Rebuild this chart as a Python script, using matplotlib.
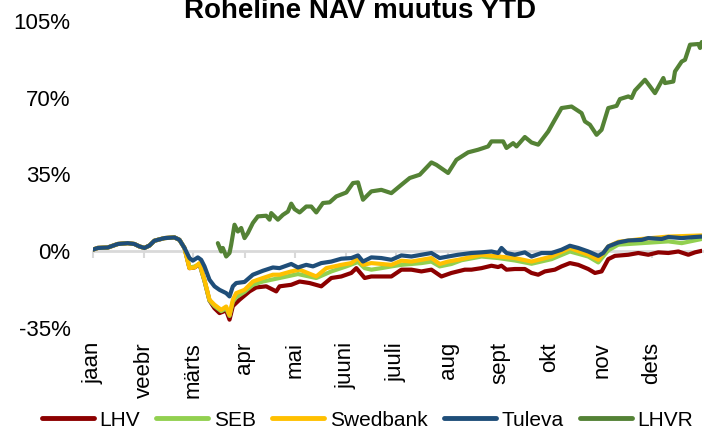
import numpy as np
import matplotlib
matplotlib.use('Agg')
import matplotlib.pyplot as plt

# values (day of year 2020, % change YTD)
months = ['jaan', 'veebr', 'märts', 'apr', 'mai', 'juuni', 'juuli', 'aug', 'sept', 'okt', 'nov', 'dets']
month_starts = [0, 31, 60, 91, 121, 152, 182, 213, 244, 274, 305, 335]

early_days = [0, 3, 9, 15, 21, 25, 28, 31, 34, 37, 43, 49, 52, 55]
early_vals = [0.7, 1.5, 1.7, 3.3, 3.7, 3.3, 2.2, 1.5, 2.6, 4.8, 6.0, 6.3, 5.2, 1.5]

tuleva_days = early_days + [58, 60, 63, 65, 67, 70, 73, 76, 80, 82, 84, 86, 91, 96, 102, 108, 112, 119, 123,
                            128, 132, 137, 143, 149, 155, 159, 162, 167, 173, 179, 185, 191, 197, 203, 208,
                            213, 219, 227, 233, 239, 243, 245, 248, 253, 259, 263, 269, 275, 281, 286, 291,
                            297, 303, 306, 309, 315, 321, 329, 333, 341, 345, 353, 361, 365]
tuleva_vals = early_vals + [-3.1, -4.3, -2.8, -3.9, -6.9, -13.0, -16.0, -17.6, -19.1, -20.6, -16.0, -14.5, -14.0,
                            -10.7, -8.9, -7.4, -7.7, -5.8, -7.4, -6.2, -6.9, -5.4, -4.7, -3.4, -3.1, -1.9, -4.7,
                            -2.8, -3.1, -3.9, -1.9, -2.4, -1.6, -0.8, -3.1, -2.4, -1.6, -0.8, -0.5, -0.1, -0.8,
                            1.5, -0.8, -1.6, -0.5, -2.4, -0.8, -0.8, 0.7, 2.5, 1.5, -0.1, -2.1, -0.8, 2.2, 4.0,
                            4.9, 5.2, 6.0, 5.6, 6.5, 6.0, 6.5, 6.7]

swed_days = early_days + [58, 61, 64, 67, 70, 73, 77, 80, 82, 84, 86, 91, 96, 102, 108, 112, 119, 124, 134, 140,
                          149, 155, 159, 162, 167, 173, 179, 185, 191, 197, 203, 208, 213, 219, 227, 233, 243,
                          253, 263, 275, 286, 297, 303, 309, 315, 329, 345, 365]
swed_vals = early_vals + [-7.7, -7.4, -5.4, -13.0, -22.1, -24.4, -26.7, -25.2, -29.0, -22.1, -19.1, -17.6, -13.8,
                          -12.2, -10.7, -10.7, -9.2, -8.4, -11.5, -7.7, -6.2, -5.4, -3.1, -6.2, -5.4, -5.8, -6.2,
                          -4.3, -4.7, -3.9, -3.1, -5.8, -4.7, -3.9, -2.6, -1.6, -2.4, -3.1, -4.7, -2.4, 1.5,
                          -1.6, -3.9, 2.2, 4.3, 5.6, 6.7, 7.2]

seb_days = early_days + [58, 61, 64, 67, 70, 73, 77, 80, 82, 84, 86, 91, 96, 102, 112, 123, 134, 143, 152, 159,
                         163, 167, 173, 179, 185, 191, 197, 203, 208, 215, 221, 233, 243, 253, 263, 275, 286,
                         297, 303, 309, 315, 329, 345, 353, 365]
seb_vals = early_vals + [-7.4, -7.0, -5.8, -13.5, -22.5, -25.0, -27.3, -26.0, -29.5, -23.0, -21.0, -18.5, -15.3,
                         -13.8, -12.2, -10.4, -12.2, -9.2, -6.9, -4.9, -7.7, -8.4, -7.7, -6.9, -6.2, -5.8, -5.4,
                         -4.7, -6.9, -5.8, -4.1, -2.4, -3.1, -4.2, -5.7, -3.6, -0.1, -2.4, -5.1, 0.4, 3.0, 3.7,
                         4.5, 3.7, 5.6]

lhv_days = early_days + [58, 61, 64, 67, 70, 73, 76, 80, 82, 84, 88, 94, 98, 104, 110, 112, 119, 124, 130, 137,
                         143, 149, 155, 158, 163, 167, 173, 179, 185, 191, 197, 203, 209, 215, 223, 227, 233,
                         239, 243, 245, 248, 253, 259, 263, 267, 271, 277, 281, 286, 291, 297, 301, 305, 309,
                         313, 321, 327, 333, 339, 345, 351, 357, 361, 365]
lhv_vals = early_vals + [-7.7, -7.4, -5.8, -13.5, -22.5, -26.0, -28.2, -27.0, -31.2, -25.0, -22.1, -18.3, -16.5,
                         -16.0, -18.3, -16.0, -15.3, -13.8, -14.5, -16.0, -12.2, -11.5, -9.9, -7.7, -12.2, -11.5,
                         -11.5, -11.5, -8.4, -8.4, -9.2, -8.4, -11.5, -9.9, -8.4, -8.4, -7.7, -6.6, -7.2, -6.6,
                         -8.4, -8.1, -8.1, -9.9, -10.7, -9.2, -8.4, -6.9, -5.4, -6.2, -8.1, -9.9, -9.2, -3.6,
                         -2.1, -1.6, -0.8, -1.6, -0.5, -0.8, -0.1, -1.6, -0.5, 0.2]

lhvr_days = [75, 77, 78, 80, 82, 83, 85, 87, 89, 91, 93, 96, 99, 104, 106, 107, 111, 114, 117, 119, 121, 124,
             128, 131, 134, 138, 142, 146, 152, 156, 159, 162, 167, 173, 179, 185, 190, 196, 203, 206, 213, 218,
             225, 231, 237, 239, 246, 248, 252, 254, 259, 263, 267, 273, 277, 281, 287, 293, 295, 298, 302, 305,
             309, 314, 316, 321, 323, 325, 331, 334, 337, 342, 343, 348, 349, 353, 355, 358, 363, 364, 365]
lhvr_vals = [3.7, -0.1, 1.5, -2.4, -0.8, 3.0, 12.1, 9.0, 10.6, 6.0, 8.3, 12.9, 15.9, 16.2, 14.4, 17.4, 14.4,
             16.6, 18.1, 21.7, 19.2, 17.7, 20.4, 20.4, 17.7, 22.0, 22.3, 25.0, 26.8, 31.1, 31.4, 23.5, 27.3,
             28.0, 26.5, 30.3, 33.4, 34.9, 40.5, 39.4, 35.7, 41.7, 45.1, 46.3, 47.8, 50.1, 50.1, 47.1, 49.3,
             47.8, 52.1, 49.6, 48.6, 54.6, 60.0, 65.3, 66.0, 63.0, 59.2, 57.7, 53.1, 55.4, 65.3, 66.3, 69.4,
             70.6, 69.9, 73.3, 78.2, 75.2, 72.1, 79.0, 76.7, 77.4, 82.0, 86.5, 87.3, 94.2, 94.5, 92.7, 95.4]

series = [
    ('LHV', lhv_days, lhv_vals, '#8c0000'),
    ('SEB', seb_days, seb_vals, '#92d050'),
    ('Swedbank', swed_days, swed_vals, '#ffc000'),
    ('Tuleva', tuleva_days, tuleva_vals, '#1f4e79'),
    ('LHVR', lhvr_days, lhvr_vals, '#548235'),
]

plt.rcParams['font.family'] = ['Liberation Sans', 'DejaVu Sans']

fig = plt.figure(figsize=(7.04, 4.30), dpi=100)
ax = fig.add_axes([92.7 / 704, 1 - 328 / 430, 609 / 704, 307 / 430])

for name, d, v, c in series:
    ax.plot(d, v, color=c, lw=3.0, label=name, solid_joinstyle='round', solid_capstyle='round')

ax.set_xlim(0, 365)
ax.set_ylim(-35, 105)
ax.set_yticks([-35, 0, 35, 70, 105])
ax.set_yticklabels(['-35%', '0%', '35%', '70%', '105%'])
ax.tick_params(axis='y', length=0, pad=16, labelsize=16)

for s in ['left', 'right', 'top']:
    ax.spines[s].set_visible(False)
ax.spines['bottom'].set_position(('data', 0))
ax.spines['bottom'].set_color('#d9d9d9')
ax.spines['bottom'].set_linewidth(2)
ax.spines['bottom'].set_zorder(0)
ax.set_xticks(month_starts)
ax.tick_params(axis='x', length=5, width=1.5, color='#d9d9d9', labelbottom=False)

sec = ax.secondary_xaxis('bottom')
sec.set_xticks(month_starts, labels=months)
sec.tick_params(length=0, pad=10, labelsize=16, labelrotation=90)
sec.spines['bottom'].set_visible(False)

fig.text(0.512, 1 - 18 / 430, 'Roheline NAV muutus YTD', ha='center', va='baseline',
         fontsize=20, fontweight='bold')

leg = fig.legend(loc='center', bbox_to_anchor=(0.522, 1 - 420 / 430), ncol=5, frameon=False,
                 fontsize=15, handlelength=2.5, handletextpad=0.25, columnspacing=0.8,
                 borderpad=0, borderaxespad=0)
for h in leg.get_lines():
    h.set_linewidth(3.5)

plt.savefig('out.png', dpi=100)
